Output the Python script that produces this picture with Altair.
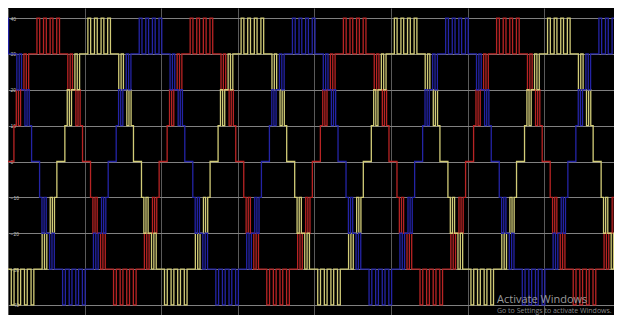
import altair as alt
import pandas as pd

# ---- values ----
PERIOD_MS = 20.0                      # one cycle = two grid divisions
X_END_MS = 79.1                       # visible time span (ms)
X_GRID = [0, 10, 20, 30, 40, 50, 60, 70]
Y_TICKS = [-40, -30, -20, -10, 0, 10, 20, 30, 40]
PHASE_NAMES = ["Phase A", "Phase B", "Phase C"]
PHASE_COLORS = ["#b82424", "#d2cc78", "#2424a6"]
PEAK_MS = [5.25, 11.9, 18.6]          # first positive peak of each phase

# one cycle of the 9-level staircase (degrees from rising zero crossing, level held after)
STEP_DEG = [0, 9.4, 15, 20, 25, 33, 38.5, 44,
            63.5, 70, 79, 85.5, 94.5, 101, 110, 116.5,
            136, 141.5, 147, 155, 160, 165, 170.6,
            180, 189.4, 195, 200, 205, 213, 218.5, 224,
            243.5, 250, 259, 265.5, 274.5, 281, 290, 296.5,
            316, 321.5, 327, 335, 340, 345, 350.6]
STEP_LEVEL = [0, 10, 20, 10, 20, 30, 20, 30,
              40, 30, 40, 30, 40, 30, 40, 30,
              20, 30, 20, 10, 20, 10, 0,
              0, -10, -20, -10, -20, -30, -20, -30,
              -40, -30, -40, -30, -40, -30, -40, -30,
              -20, -30, -20, -10, -20, -10, 0]
CYCLES = [-1, 0, 1, 2, 3, 4]

WATERMARK = ["Activate Windows", "Go to Settings to activate Windows."]

# ---- table for the library ----
rows = []
for name, peak in zip(PHASE_NAMES, PEAK_MS):
    for k in CYCLES:
        base = peak - PERIOD_MS / 4 + k * PERIOD_MS
        for d, lvl in zip(STEP_DEG, STEP_LEVEL):
            rows.append({"phase": name, "t": base + d / 360 * PERIOD_MS, "v": lvl})
df = pd.DataFrame(rows).sort_values(["phase", "t"])

x_scale = alt.Scale(domain=[0, X_END_MS], nice=False, zero=False)
y_scale = alt.Scale(domain=[-42.8, 42.8], nice=False, zero=False)

waves = alt.Chart(df).mark_line(interpolate="step-after", strokeWidth=1.3, clip=True).encode(
    x=alt.X("t:Q", scale=x_scale,
            axis=alt.Axis(values=X_GRID, grid=True, gridColor="#5a5a5a", gridWidth=1,
                          labels=False, ticks=False, domain=False, title=None)),
    y=alt.Y("v:Q", scale=y_scale,
            axis=alt.Axis(values=Y_TICKS, grid=True, gridColor="#808080", gridWidth=1,
                          labels=True, labelFontSize=5, labelColor="#bdbdbd",
                          labelAlign="left", labelPadding=-2, ticks=False,
                          domain=False, title=None)),
    color=alt.Color("phase:N", scale=alt.Scale(domain=PHASE_NAMES, range=PHASE_COLORS), legend=None),
    detail="phase:N",
)

wm1 = alt.Chart(pd.DataFrame({"msg": [WATERMARK[0]]})).mark_text(
    align="left", baseline="middle", fontSize=11, color="#9a9a9a", font="Open Sans"
).encode(text="msg:N", x=alt.value(489), y=alt.value(292))
wm2 = alt.Chart(pd.DataFrame({"msg": [WATERMARK[1]]})).mark_text(
    align="left", baseline="middle", fontSize=7, color="#8a8a8a", font="Open Sans"
).encode(text="msg:N", x=alt.value(489), y=alt.value(303))

chart = alt.layer(waves, wm1, wm2).properties(
    width=606, height=307,
    autosize=alt.AutoSizeParams(type="fit", contains="padding"),
    padding=0,
    background="#000000",
).configure_view(fill="#000000", stroke=None)

chart.save("out.html", embed_options={"renderer": "svg", "actions": False})
